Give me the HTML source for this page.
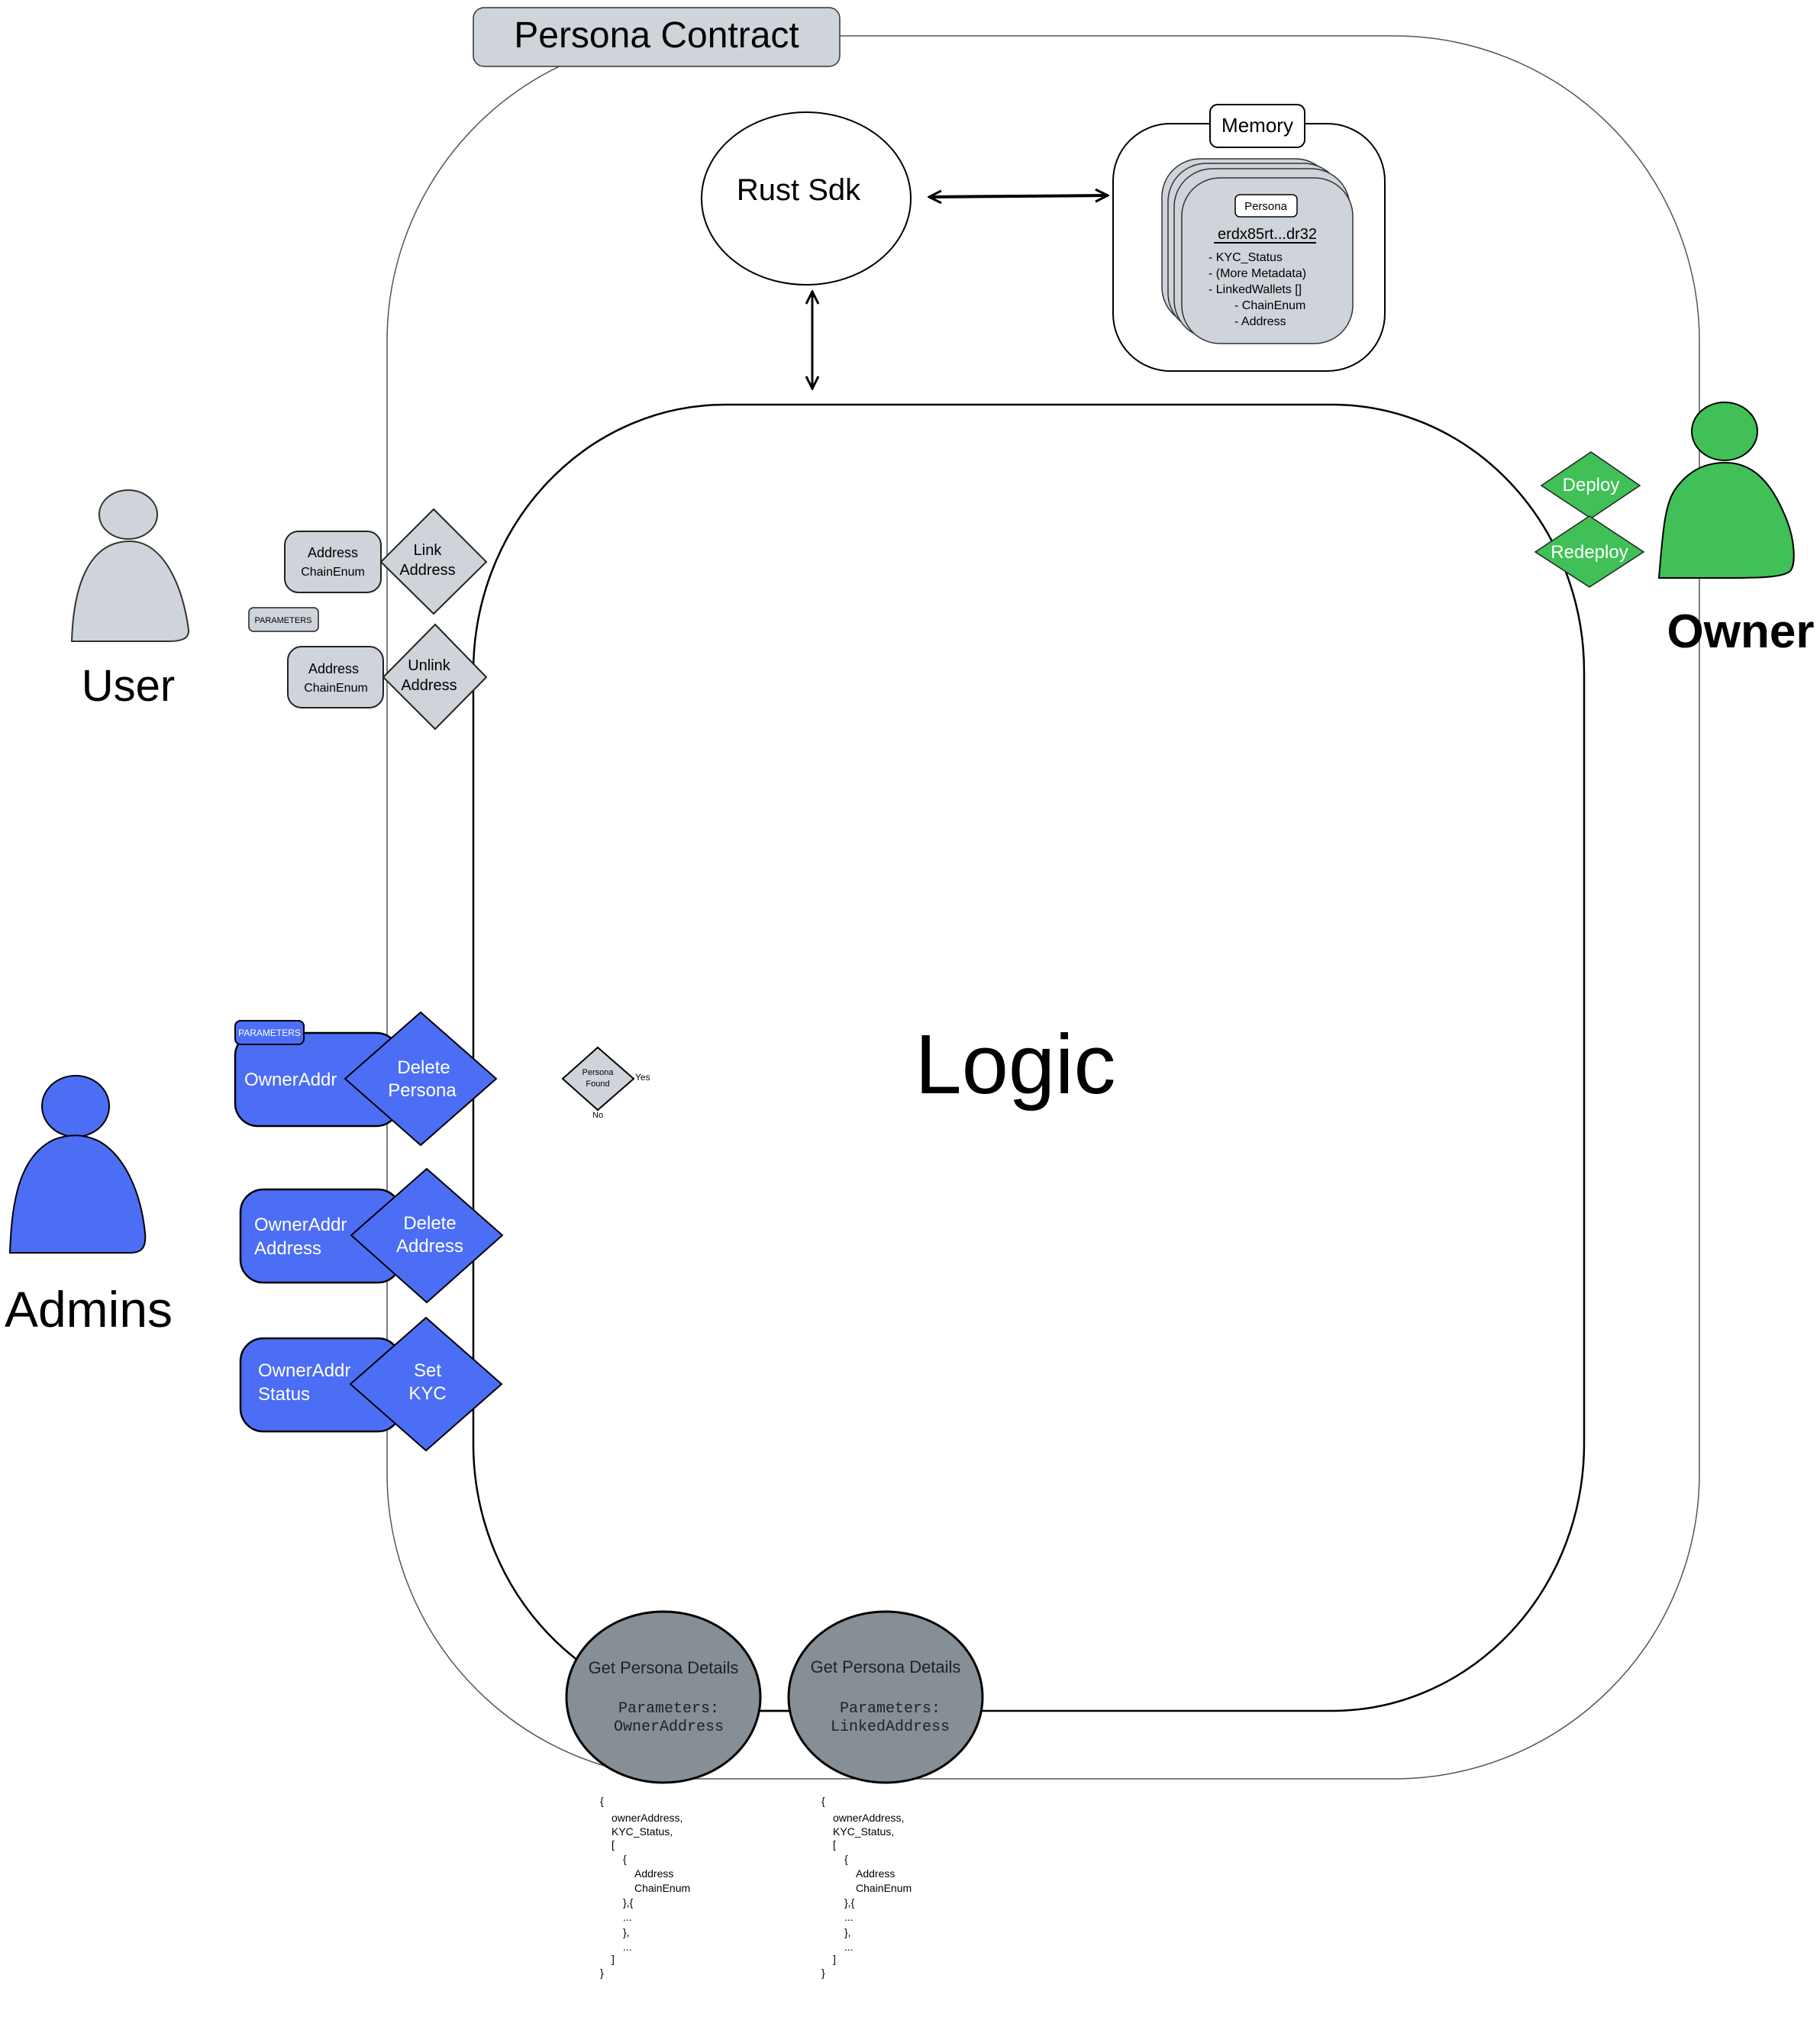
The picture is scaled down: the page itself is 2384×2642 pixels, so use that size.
<!DOCTYPE html>
<html><head><meta charset="utf-8"><style>
html,body{margin:0;padding:0;background:#fff}
svg{display:block}
text{font-family:"Liberation Sans",sans-serif}
.m{font-family:"Liberation Mono",monospace}
</style></head><body>
<svg width="2384" height="2642" viewBox="0 0 2384 2642" xmlns="http://www.w3.org/2000/svg">
<defs>
<marker id="ah" viewBox="0 0 20 20" refX="18" refY="10" markerWidth="20" markerHeight="20" markerUnits="userSpaceOnUse" orient="auto-start-reverse">
<path d="M2,2 L18,10 L2,18" fill="none" stroke="#000" stroke-width="3"/>
</marker>
</defs>

<!-- outer contract -->
<path d="M907,47 L1826,47 A400,400 0 0 1 2226,447 L2226,1930 A400,400 0 0 1 1826,2330 L907,2330 A400,400 0 0 1 507,1930 L507,447 A400,400 0 0 1 907,47 Z" fill="none" stroke="#555" stroke-width="1.5"/>
<!-- title -->
<rect x="620" y="10" width="480" height="77" rx="14" fill="#ced4da" stroke="#333" stroke-width="1.5"/>
<text x="860" y="62" font-size="48" text-anchor="middle" fill="#000">Persona Contract</text>

<!-- logic -->
<path d="M950,530 L1745,530 A330,350 0 0 1 2075,880 L2075,1891 A330,350 0 0 1 1745,2241 L950,2241 A330,350 0 0 1 620,1891 L620,880 A330,350 0 0 1 950,530 Z" fill="none" stroke="#000" stroke-width="2.5"/>
<text x="1330" y="1432" font-size="110" text-anchor="middle" fill="#000">Logic</text>

<!-- Rust sdk -->
<ellipse cx="1056" cy="260" rx="137" ry="113" fill="#fff" stroke="#000" stroke-width="2"/>
<text x="1046" y="262" font-size="40" text-anchor="middle">Rust Sdk</text>
<line x1="1217" y1="258" x2="1451" y2="256" stroke="#000" stroke-width="4" marker-start="url(#ah)" marker-end="url(#ah)"/>
<line x1="1064" y1="382" x2="1064" y2="509" stroke="#000" stroke-width="3" marker-start="url(#ah)" marker-end="url(#ah)"/>

<!-- memory -->
<rect x="1458" y="162" width="356" height="324" rx="75" fill="#fff" stroke="#000" stroke-width="2"/>
<rect x="1585" y="137" width="124" height="56" rx="10" fill="#fff" stroke="#000" stroke-width="2"/>
<text x="1647" y="173" font-size="26" text-anchor="middle">Memory</text>
<rect x="1522" y="208" width="225" height="218" rx="50" fill="#ced4da" stroke="#333" stroke-width="1.5"/>
<rect x="1530" y="214" width="228" height="220" rx="50" fill="#ced4da" stroke="#333" stroke-width="1.5"/>
<rect x="1538" y="221" width="230" height="222" rx="50" fill="#ced4da" stroke="#333" stroke-width="1.5"/>
<rect x="1548" y="233" width="224" height="217" rx="50" fill="#ced4da" stroke="#333" stroke-width="1.5"/>
<rect x="1618" y="255" width="81" height="29" rx="6" fill="#fff" stroke="#000" stroke-width="1.5"/>
<text x="1658" y="275" font-size="15" text-anchor="middle">Persona</text>
<text x="1660" y="313" font-size="20" text-anchor="middle">erdx85rt...dr32</text>
<line x1="1590" y1="318" x2="1724" y2="318" stroke="#000" stroke-width="2"/>
<g font-size="16">
<text x="1583" y="342">- KYC_Status</text>
<text x="1583" y="363">- (More Metadata)</text>
<text x="1583" y="384">- LinkedWallets []</text>
<text x="1617" y="405">- ChainEnum</text>
<text x="1617" y="426">- Address</text>
</g>

<!-- User -->
<ellipse cx="168" cy="674" rx="38" ry="32" fill="#ced4da" stroke="#333" stroke-width="2"/>
<path d="M94,840 C96,770 115,709 170,709 C215,709 240,770 247,825 C248,838 235,840 220,840 Z" fill="#ced4da" stroke="#333" stroke-width="2"/>
<text x="168" y="918" font-size="58" text-anchor="middle">User</text>

<rect x="373" y="696" width="126" height="80" rx="18" fill="#ced4da" stroke="#222" stroke-width="2"/>
<text x="436" y="730" font-size="18" text-anchor="middle">Address</text>
<text x="436" y="754" font-size="16" text-anchor="middle">ChainEnum</text>
<polygon points="568,667 637,736 568,804 499,736" fill="#ced4da" stroke="#222" stroke-width="2"/>
<text x="560" y="727" font-size="20" text-anchor="middle">Link</text>
<text x="560" y="753" font-size="20" text-anchor="middle">Address</text>
<rect x="326" y="796" width="91" height="31" rx="6" fill="#ced4da" stroke="#222" stroke-width="1.5"/>
<text x="371" y="816" font-size="11" text-anchor="middle">PARAMETERS</text>
<rect x="377" y="847" width="125" height="80" rx="18" fill="#ced4da" stroke="#222" stroke-width="2"/>
<text x="437" y="882" font-size="18" text-anchor="middle">Address</text>
<text x="440" y="906" font-size="16" text-anchor="middle">ChainEnum</text>
<polygon points="570,818 637,887 570,955 502,887" fill="#ced4da" stroke="#222" stroke-width="2"/>
<text x="562" y="878" font-size="20" text-anchor="middle">Unlink</text>
<text x="562" y="904" font-size="20" text-anchor="middle">Address</text>

<!-- Owner -->
<ellipse cx="2259" cy="565" rx="43" ry="38" fill="#40c057" stroke="#000" stroke-width="2"/>
<path d="M2173,757 C2178,700 2180,660 2195,640 C2215,612 2240,606 2260,606 C2295,606 2320,630 2340,680 C2352,710 2352,740 2345,748 C2335,757 2300,757 2260,757 Z" fill="#40c057" stroke="#000" stroke-width="2"/>
<text x="2280" y="848" font-size="62" font-weight="bold" text-anchor="middle">Owner</text>
<polygon points="2084,592 2148,636 2084,679 2019,636" fill="#40c057" stroke="#222" stroke-width="1.5"/>
<text x="2084" y="643" font-size="24" fill="#fff" text-anchor="middle">Deploy</text>
<polygon points="2082,676 2153,723 2082,769 2011,723" fill="#40c057" stroke="#222" stroke-width="1.5"/>
<text x="2082" y="731" font-size="24" fill="#fff" text-anchor="middle">Redeploy</text>

<!-- Admins -->
<ellipse cx="99" cy="1449" rx="44" ry="40" fill="#4c6ef5" stroke="#000" stroke-width="2"/>
<path d="M13,1641 C15,1575 25,1515 70,1493 C90,1485 110,1485 130,1495 C165,1515 185,1565 190,1615 C192,1635 185,1641 170,1641 Z" fill="#4c6ef5" stroke="#000" stroke-width="2"/>
<text x="116" y="1738" font-size="66" text-anchor="middle">Admins</text>

<rect x="308" y="1353" width="215" height="122" rx="30" fill="#4c6ef5" stroke="#000" stroke-width="2.5"/>
<rect x="308" y="1337" width="90" height="31" rx="7" fill="#4c6ef5" stroke="#000" stroke-width="2"/>
<text x="353" y="1357" font-size="12" fill="#fff" text-anchor="middle">PARAMETERS</text>
<polygon points="551,1326 650,1413 551,1500 452,1413" fill="#4c6ef5" stroke="#000" stroke-width="2"/>
<text x="320" y="1422" font-size="24" fill="#fff">OwnerAddr</text>
<text x="555" y="1406" font-size="24" fill="#fff" text-anchor="middle">Delete</text>
<text x="553" y="1436" font-size="24" fill="#fff" text-anchor="middle">Persona</text>

<rect x="315" y="1558" width="210" height="122" rx="30" fill="#4c6ef5" stroke="#000" stroke-width="2.5"/>
<polygon points="559,1531 658,1618 559,1706 460,1618" fill="#4c6ef5" stroke="#000" stroke-width="2"/>
<text x="333" y="1612" font-size="24" fill="#fff">OwnerAddr</text>
<text x="333" y="1643" font-size="24" fill="#fff">Address</text>
<text x="563" y="1610" font-size="24" fill="#fff" text-anchor="middle">Delete</text>
<text x="563" y="1640" font-size="24" fill="#fff" text-anchor="middle">Address</text>

<rect x="315" y="1753" width="210" height="122" rx="30" fill="#4c6ef5" stroke="#000" stroke-width="2.5"/>
<polygon points="558,1726 657,1813 558,1900 459,1813" fill="#4c6ef5" stroke="#000" stroke-width="2"/>
<text x="338" y="1803" font-size="24" fill="#fff">OwnerAddr</text>
<text x="338" y="1834" font-size="24" fill="#fff">Status</text>
<text x="560" y="1803" font-size="24" fill="#fff" text-anchor="middle">Set</text>
<text x="560" y="1833" font-size="24" fill="#fff" text-anchor="middle">KYC</text>

<!-- persona found -->
<polygon points="783,1372 830,1413 783,1454 737,1413" fill="#ced4da" stroke="#000" stroke-width="2"/>
<text x="783" y="1408" font-size="11" text-anchor="middle">Persona</text>
<text x="783" y="1423" font-size="11" text-anchor="middle">Found</text>
<text x="832" y="1415" font-size="12">Yes</text>
<text x="776" y="1464" font-size="11">No</text>

<!-- get persona -->
<line x1="990" y1="2241" x2="1040" y2="2241" stroke="#000" stroke-width="2.5"/>
<ellipse cx="869" cy="2223" rx="127" ry="112" fill="#868e96" stroke="#000" stroke-width="3"/>
<ellipse cx="1160" cy="2223" rx="127" ry="112" fill="#868e96" stroke="#000" stroke-width="3"/>
<g fill="#222">
<text x="869" y="2192" font-size="22" text-anchor="middle">Get Persona Details</text>
<text class="m" x="876" y="2243" font-size="20" text-anchor="middle">Parameters:</text>
<text class="m" x="876" y="2267" font-size="20" text-anchor="middle">OwnerAddress</text>
<text x="1160" y="2191" font-size="22" text-anchor="middle">Get Persona Details</text>
<text class="m" x="1166" y="2243" font-size="20" text-anchor="middle">Parameters:</text>
<text class="m" x="1166" y="2267" font-size="20" text-anchor="middle">LinkedAddress</text>
</g>

<!-- json -->
<g font-size="14">
<text x="786" y="2364">{</text>
<text x="801" y="2386">ownerAddress,</text>
<text x="801" y="2404">KYC_Status,</text>
<text x="801" y="2421">[</text>
<text x="816" y="2440">{</text>
<text x="831" y="2459">Address</text>
<text x="831" y="2478">ChainEnum</text>
<text x="816" y="2497">},{</text>
<text x="816" y="2516">...</text>
<text x="816" y="2536">},</text>
<text x="816" y="2555">...</text>
<text x="801" y="2571">]</text>
<text x="786" y="2589">}</text>
<text x="1076" y="2364">{</text>
<text x="1091" y="2386">ownerAddress,</text>
<text x="1091" y="2404">KYC_Status,</text>
<text x="1091" y="2421">[</text>
<text x="1106" y="2440">{</text>
<text x="1121" y="2459">Address</text>
<text x="1121" y="2478">ChainEnum</text>
<text x="1106" y="2497">},{</text>
<text x="1106" y="2516">...</text>
<text x="1106" y="2536">},</text>
<text x="1106" y="2555">...</text>
<text x="1091" y="2571">]</text>
<text x="1076" y="2589">}</text>
</g>
</svg>
</body></html>
